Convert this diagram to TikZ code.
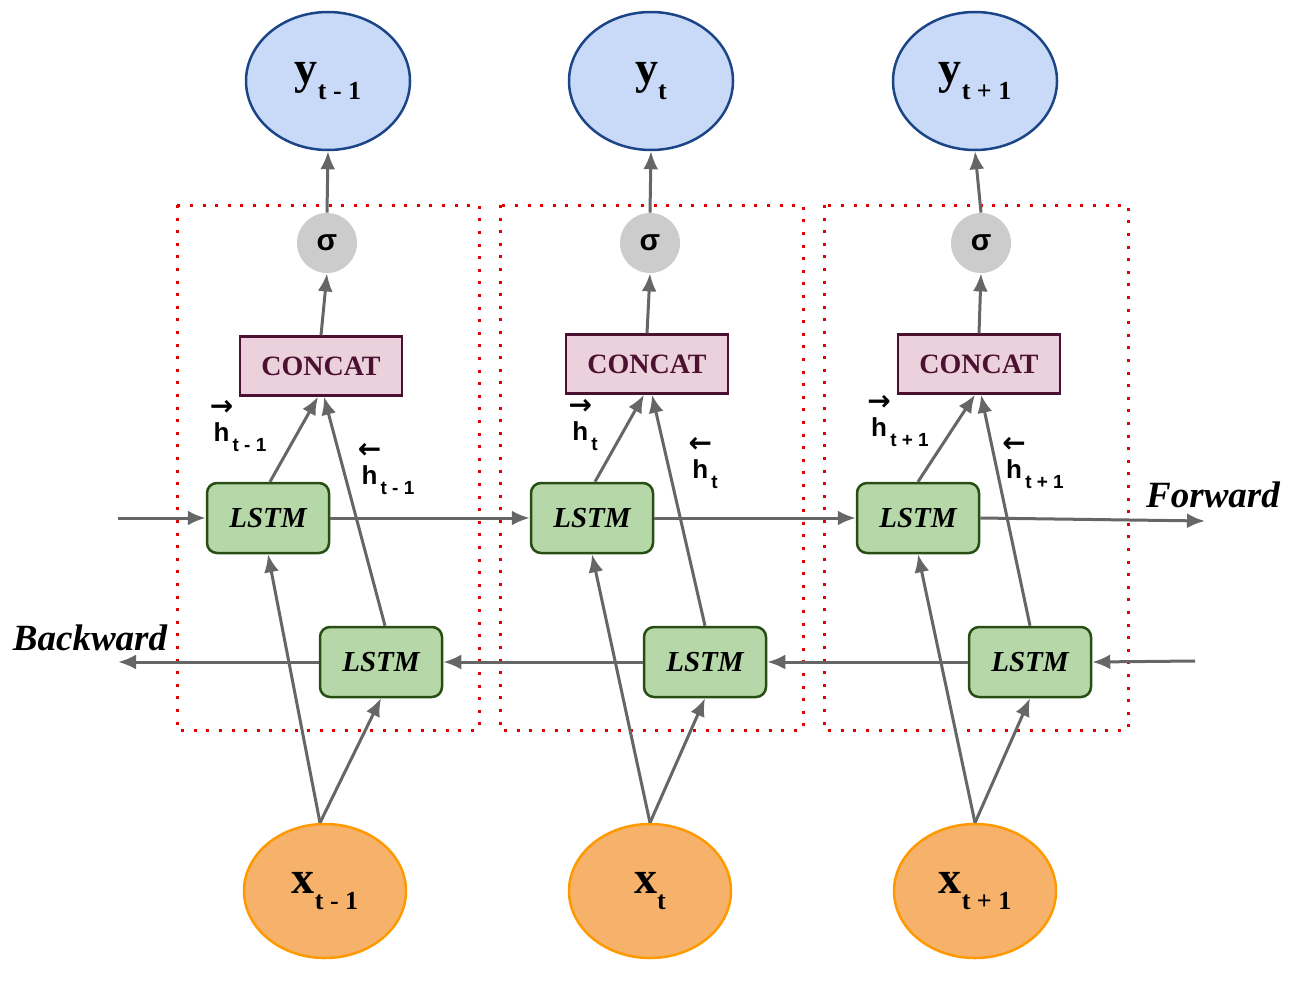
\documentclass[tikz,border=0pt]{standalone}
\usepackage{fontspec}
\setmainfont{Liberation Serif}
\setsansfont{Liberation Sans}
\newfontfamily\arrowfont{DejaVu Sans}
\usepackage{tikz}
\usetikzlibrary{arrows.meta,shapes.geometric}

\definecolor{outblue}{HTML}{C9DAF8}
\definecolor{outedge}{HTML}{1C4587}
\definecolor{inorange}{HTML}{F6B26B}
\definecolor{inedge}{HTML}{FF9900}
\definecolor{cellgreen}{HTML}{B6D7A8}
\definecolor{celledge}{HTML}{274E13}
\definecolor{catpink}{HTML}{EAD1DC}
\definecolor{catedge}{HTML}{4C1130}
\definecolor{sigmagray}{HTML}{CCCCCC}
\definecolor{arrgray}{HTML}{666666}
\definecolor{unitred}{HTML}{E00000}

%% variable with lowered index, e.g. y_{t-1}
\newcommand{\varlab}[2]{#1\raisebox{-0.34em}{\fontsize{13}{13}\selectfont #2}}
%% hidden state with direction arrow on top
\newcommand{\hlab}[2]{\shortstack{\makebox[0pt]{\arrowfont\bfseries\fontsize{14}{14}\selectfont #1}\\[1pt]h}%
  \raisebox{-5pt}{\fontsize{9.5}{9.5}\selectfont\,#2}}

\begin{document}
\begin{tikzpicture}[
  x=0.5pt, y=-0.5pt,
  every node/.style={inner sep=0pt},
  outvar/.style={ellipse, draw=outedge, fill=outblue, line width=1.25pt,
                 minimum width=82pt, minimum height=69pt,
                 font=\bfseries\fontsize{23}{23}\selectfont},
  invar/.style={ellipse, draw=inedge, fill=inorange, line width=1.25pt,
                minimum width=81pt, minimum height=67pt,
                font=\bfseries\fontsize{23}{23}\selectfont},
  sig/.style={circle, fill=sigmagray, minimum size=30pt,
              font=\sffamily\bfseries\fontsize{15}{15}\selectfont},
  concat/.style={draw=catedge, fill=catpink, line width=1.25pt,
                 minimum width=81pt, minimum height=29.5pt, text=catedge,
                 font=\bfseries\fontsize{14}{14}\selectfont},
  cell/.style={draw=celledge, fill=cellgreen, line width=1.25pt,
               rounded corners=5pt, minimum width=61pt, minimum height=35pt,
               font=\bfseries\itshape\fontsize{14.5}{14.5}\selectfont},
  hstate/.style={font=\sffamily\bfseries\fontsize{13}{13}\selectfont},
  dirlab/.style={font=\bfseries\itshape\fontsize{18.5}{18.5}\selectfont},
  arr/.style={-{Latex[length=9pt,width=7.5pt]}, draw=arrgray, line width=1.5pt},
  unit/.style={draw=unitred, line width=1.5pt, dash pattern=on 1.5pt off 4.8pt}
]
\useasboundingbox (0,0) rectangle (1294,980);

%% --- Time-step frames -------------------------------------------
\draw[unit] (177,205) rectangle (479,730);
\draw[unit] (500,205) rectangle (803,730);
\draw[unit] (824,205) rectangle (1128,730);

%% --- Outputs ----------------------------------------------------
\node[outvar] (yprev) at (328,81)  {\varlab{y}{t - 1}};
\node[outvar] (ynow)  at (651,81)  {\varlab{y}{t}};
\node[outvar] (ynext) at (975,81)  {\varlab{y}{t + 1}};

\node[sig] (sprev) at (327,243) {σ};
\node[sig] (snow)  at (650,243) {σ};
\node[sig] (snext) at (981,243) {σ};

\node[concat] (cprev) at (321,366) {CONCAT};
\node[concat] (cnow)  at (647,364) {CONCAT};
\node[concat] (cnext) at (979,364) {CONCAT};

%% --- LSTM cells -------------------------------------------------
\node[cell] (fprev) at (268,518) {LSTM};
\node[cell] (fnow)  at (592,518) {LSTM};
\node[cell] (fnext) at (918,518) {LSTM};

\node[cell] (bprev) at (381,662) {LSTM};
\node[cell] (bnow)  at (705,662) {LSTM};
\node[cell] (bnext) at (1030,662) {LSTM};

%% --- Inputs -----------------------------------------------------
\node[invar] (xprev) at (325,891) {\varlab{x}{t - 1}};
\node[invar] (xnow)  at (650,891) {\varlab{x}{t}};
\node[invar] (xnext) at (975,891) {\varlab{x}{t + 1}};

%% --- Chain ends -------------------------------------------------
\coordinate (fin)  at (118,518);
\coordinate (fout) at (1205,521);
\coordinate (bin)  at (1195,661);
\coordinate (bout) at (118,662);

\node[dirlab] (fwdlab) at (1213,495) {Forward};
\node[dirlab] (bwdlab) at (90,638)   {Backward};

%% --- Forward / backward chains ----------------------------------
\draw[arr] (fin) -- (fprev.west);
\draw[arr] (fprev.east) -- (fnow.west);
\draw[arr] (fnow.east) -- (fnext.west);
\draw[arr] (fnext.east) -- (fout);

\draw[arr] (bin) -- (bnext.east);
\draw[arr] (bnext.west) -- (bnow.east);
\draw[arr] (bnow.west) -- (bprev.east);
\draw[arr] (bprev.west) -- (bout);

%% --- Inputs into both directions --------------------------------
\draw[arr] ([xshift=-2.5pt]xprev.north) -- (fprev.south);
\draw[arr] ([xshift=-2.5pt]xprev.north) -- (bprev.south);
\draw[arr] (xnow.north) -- (fnow.south);
\draw[arr] (xnow.north) -- (bnow.south);
\draw[arr] (xnext.north) -- (fnext.south);
\draw[arr] (xnext.north) -- (bnext.south);

%% --- Hidden states into CONCAT ----------------------------------
\draw[arr] ([xshift=1pt]fprev.north) -- ([xshift=-1.5pt]cprev.south);
\draw[arr] ([xshift=2pt]bprev.north) -- ([xshift=1.5pt]cprev.south);
\draw[arr] ([xshift=1.5pt]fnow.north) -- ([xshift=-1.5pt]cnow.south);
\draw[arr] (bnow.north) -- ([xshift=2.5pt]cnow.south);
\draw[arr] (fnext.north) -- ([xshift=-2pt]cnext.south);
\draw[arr] (bnext.north) -- ([xshift=1pt]cnext.south);

\node[hstate] (hfprev) at (240,426) {\hlab{→}{t - 1}};
\node[hstate] (hbprev) at (388,469) {\hlab{←}{t - 1}};
\node[hstate] (hfnow)  at (585,425) {\hlab{→}{t}};
\node[hstate] (hbnow)  at (705,463) {\hlab{←}{t}};
\node[hstate] (hfnext) at (900,421) {\hlab{→}{t + 1}};
\node[hstate] (hbnext) at (1035,463) {\hlab{←}{t + 1}};

%% --- CONCAT -> sigma -> output ----------------------------------
\draw[arr] (cprev.north) -- (sprev.south);
\draw[arr] (sprev.north) -- (yprev.south);
\draw[arr] (cnow.north) -- (snow.south);
\draw[arr] (snow.north) -- (ynow.south);
\draw[arr] (cnext.north) -- (snext.south);
\draw[arr] (snext.north) -- (ynext.south);

\end{tikzpicture}
\end{document}
